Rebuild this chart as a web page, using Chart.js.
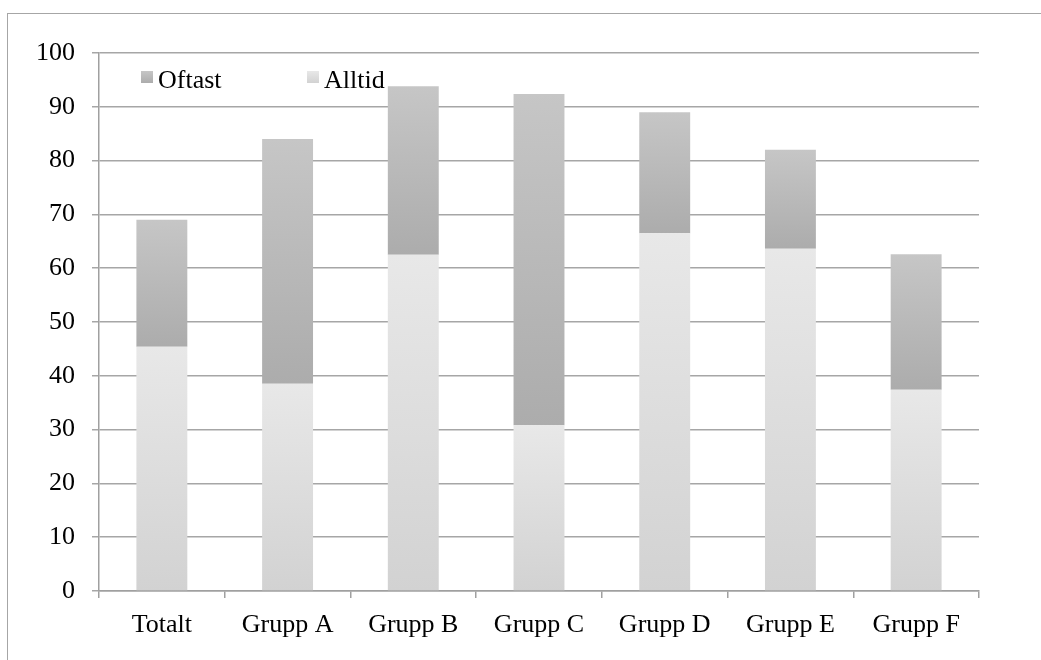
<!DOCTYPE html>
<html>
<head>
<meta charset="utf-8">
<script src="https://cdn.jsdelivr.net/npm/chart.js@4/dist/chart.umd.min.js"></script>
<style>
  html, body { margin: 0; padding: 0; background: #fff; overflow: hidden; }
  #wrap { position: relative; width: 1041px; height: 660px; }
  #frame { position: absolute; left: 7px; top: 13px; width: 1100px; height: 700px;
           border-left: 1.5px solid #a6a6a6; border-top: 1.5px solid #a6a6a6; box-sizing: border-box; }
  canvas { position: absolute; left: 0; top: 0; }
</style>
</head>
<body>
<div id="wrap">
  <div id="frame"></div>
  <canvas id="c" width="1041" height="660" style="width:1041px;height:660px"></canvas>
</div>
<script>
const categories = ["Totalt", "Grupp A", "Grupp B", "Grupp C", "Grupp D", "Grupp E", "Grupp F"];
const alltid = [45.4, 38.5, 62.5, 30.8, 66.5, 63.6, 37.4];
const oftast = [23.6, 45.5, 31.3, 61.6, 22.5, 18.4, 25.2];
const seriesNames = ["Oftast", "Alltid"];
const yTicks = [0, 10, 20, 30, 40, 50, 60, 70, 80, 90, 100];

const FONT = '"Liberation Serif", "Times New Roman", serif';
const ALLTID_TOP = '#e8e8e8', ALLTID_BOT = '#d2d2d2';
const OFTAST_TOP = '#c6c6c6', OFTAST_BOT = '#acacac';

function segGradient(ctx, chart, from, to, top, bot) {
  const y = chart.scales.y;
  if (!y || !chart.chartArea) return top;
  const yTop = y.getPixelForValue(to), yBot = y.getPixelForValue(from);
  if (!isFinite(yTop) || !isFinite(yBot) || yTop === yBot) return top;
  const g = chart.ctx.createLinearGradient(0, yTop, 0, yBot);
  g.addColorStop(0, top);
  g.addColorStop(1, bot);
  return g;
}

const legendPlugin = {
  id: 'insideLegend',
  afterDraw(chart) {
    const ctx = chart.ctx;
    const items = [
      { name: seriesNames[0], x: 141, top: OFTAST_TOP, bot: OFTAST_BOT },
      { name: seriesNames[1], x: 307, top: ALLTID_TOP, bot: ALLTID_BOT }
    ];
    ctx.save();
    items.forEach(it => {
      const g = ctx.createLinearGradient(0, 71, 0, 83);
      g.addColorStop(0, it.top); g.addColorStop(1, it.bot);
      ctx.fillStyle = g;
      ctx.fillRect(it.x, 71, 12, 12);
      ctx.fillStyle = '#000';
      ctx.font = '26px ' + FONT;
      ctx.textBaseline = 'alphabetic';
      ctx.textAlign = 'left';
      ctx.fillText(it.name, it.x + 17, 88);
    });
    ctx.restore();
  }
};

new Chart(document.getElementById('c'), {
  type: 'bar',
  data: {
    labels: categories,
    datasets: [
      {
        label: seriesNames[1],
        data: alltid,
        backgroundColor: (c) => {
          if (c.type !== 'data') return ALLTID_TOP;
          return segGradient(c.chart.ctx, c.chart, 0, alltid[c.dataIndex], ALLTID_TOP, ALLTID_BOT);
        },
        borderWidth: 0,
        barPercentage: 0.405,
        categoryPercentage: 1.0
      },
      {
        label: seriesNames[0],
        data: oftast,
        backgroundColor: (c) => {
          if (c.type !== 'data') return OFTAST_TOP;
          const i = c.dataIndex;
          return segGradient(c.chart.ctx, c.chart, alltid[i], alltid[i] + oftast[i], OFTAST_TOP, OFTAST_BOT);
        },
        borderWidth: 0,
        barPercentage: 0.405,
        categoryPercentage: 1.0
      }
    ]
  },
  options: {
    responsive: false,
    animation: false,
    devicePixelRatio: 1,
    layout: { padding: { left: 0, top: 53, right: 62, bottom: 0 } },
    plugins: {
      legend: { display: false },
      tooltip: { enabled: false },
      title: { display: false }
    },
    scales: {
      x: {
        stacked: true,
        grid: { drawOnChartArea: false, drawTicks: true, tickLength: 7, color: '#a0a0a0', lineWidth: 1.5, offset: true },
        border: { display: true, color: '#a0a0a0', width: 1.5 },
        ticks: { color: '#000', font: { family: FONT, size: 26 }, padding: 12, maxRotation: 0, autoSkip: false },
        afterFit: (s) => { s.height = 69; }
      },
      y: {
        stacked: true,
        min: 0,
        max: 100,
        afterBuildTicks: (s) => { s.ticks = yTicks.map(v => ({ value: v })); },
        grid: { color: '#a6a6a6', lineWidth: 1.5, tickLength: 7 },
        border: { display: true, color: '#a0a0a0', width: 1.5 },
        ticks: { color: '#000', font: { family: FONT, size: 26 }, padding: 17 },
        afterFit: (s) => { s.width = 99; }
      }
    }
  },
  plugins: [legendPlugin]
});
</script>
</body>
</html>
